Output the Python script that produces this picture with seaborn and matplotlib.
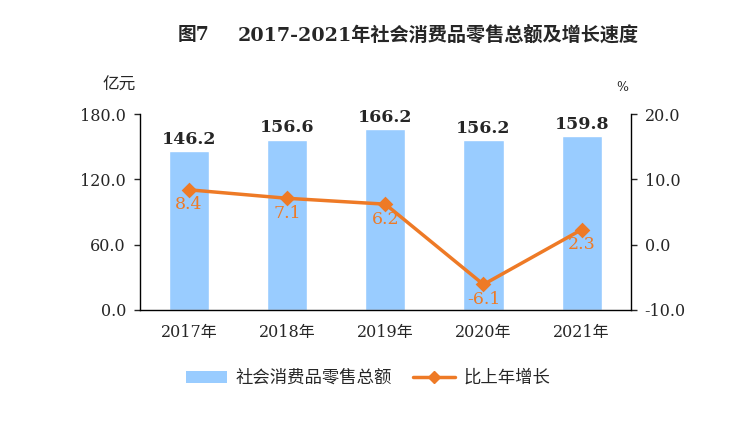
import numpy as np
import pandas as pd
import matplotlib
matplotlib.use("Agg")
import matplotlib.pyplot as plt
import seaborn as sns
from matplotlib.lines import Line2D
from matplotlib.patches import Patch

# 数据
years = ["2017年", "2018年", "2019年", "2020年", "2021年"]
sales = [146.2, 156.6, 166.2, 156.2, 159.8]
growth = [8.4, 7.1, 6.2, -6.1, 2.3]

df = pd.DataFrame({"year": years, "sales": sales, "growth": growth})

sns.set_style("white")
plt.rcParams["font.family"] = ["DejaVu Serif", "Noto Sans CJK SC", "DejaVu Sans"]
plt.rcParams["axes.unicode_minus"] = False

bar_color = "#99CCFF"
line_color = "#EE7A26"

fig = plt.figure(figsize=(7.36, 4.24), dpi=100)
ax = fig.add_axes([0.190, 0.269, 0.667, 0.462])

sns.barplot(data=df, x="year", y="sales", color=bar_color, width=0.41,
            saturation=1, ax=ax)
ax.set_ylim(0, 180)
ax.set_yticks([0, 60, 120, 180])
ax.set_yticklabels(["%.1f" % v for v in [0, 60, 120, 180]], fontsize=11.5)
ax.set_xlim(-0.5, 4.5)
ax.set_xlabel("")
ax.set_ylabel("")
ax.tick_params(axis="x", length=0, labelsize=11.5, pad=10)
ax.set_xticks([0.5, 1.5, 2.5, 3.5], minor=True)
ax.tick_params(axis="x", which="minor", direction="in", length=4, width=1)
ax.tick_params(axis="y", direction="out", length=4, width=1, left=True, pad=6)
for s in ["left", "bottom"]:
    ax.spines[s].set_color("black")
    ax.spines[s].set_linewidth(1)
ax.spines["top"].set_visible(False)
ax.spines["right"].set_visible(False)

for i, v in enumerate(sales):
    ax.text(i, v + 3, "%.1f" % v, ha="center", va="bottom", fontsize=12.5,
            fontweight="bold")

ax2 = ax.twinx()
sns.pointplot(data=df, x="year", y="growth", color=line_color, markers="D",
              markersize=6, linewidth=2.5, ax=ax2)
ax2.set_ylim(-10, 20)
ax2.set_xlim(-0.5, 4.5)
ax2.set_yticks([-10, 0, 10, 20])
ax2.set_yticklabels(["%.1f" % v for v in [-10, 0, 10, 20]], fontsize=11.5)
ax2.set_ylabel("")
ax2.tick_params(axis="y", direction="out", length=4, width=1, right=True, pad=6)
ax2.spines["right"].set_color("black")
ax2.spines["right"].set_linewidth(1)
ax2.spines["top"].set_visible(False)
ax2.spines["left"].set_visible(False)
ax2.spines["bottom"].set_visible(False)

for i, v in enumerate(growth):
    ax2.text(i, v - 1.0, "%.1f" % v, ha="center", va="top", fontsize=12.5,
             color=line_color)

fig.text(0.242, 0.917, "图7", ha="left", va="center", fontsize=13.5,
         fontweight="bold")
fig.text(0.323, 0.917, "2017-2021年社会消费品零售总额及增长速度",
         ha="left", va="center", fontsize=13.8, fontweight="bold")
fig.text(0.162, 0.80, "亿元", ha="center", va="center", fontsize=12)
fig.text(0.845, 0.793, "%", ha="center", va="center", fontsize=9)

handles = [Patch(facecolor=bar_color, edgecolor="none"),
           Line2D([0], [0], color=line_color, lw=2.5, marker="D", markersize=6)]
fig.legend(handles, ["社会消费品零售总额", "比上年增长"], loc="center",
           bbox_to_anchor=(0.50, 0.108), ncol=2, frameon=False, fontsize=12.5,
           handlelength=2.4, columnspacing=1.2, handletextpad=0.5)

fig.savefig("out.png", dpi=100)
